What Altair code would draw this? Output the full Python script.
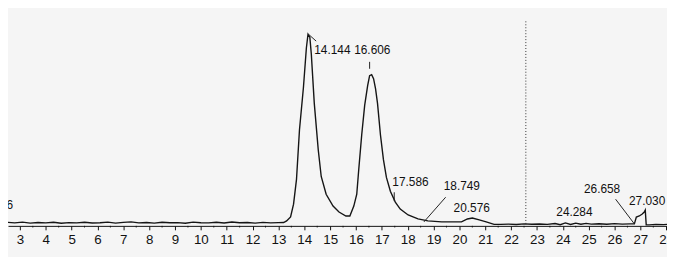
import altair as alt
import pandas as pd

# ---- trace (retention time in min, detector signal) ----
time = [2.54, 2.8, 3.1, 3.4, 3.7, 4.0, 4.3, 4.6, 4.9, 5.2, 5.5, 5.8, 6.1, 6.4, 6.7, 7.0,
        7.3, 7.6, 7.9, 8.2, 8.5, 8.8, 9.1, 9.4, 9.7, 10.0, 10.3, 10.6, 10.9, 11.2, 11.5,
        11.8, 12.1, 12.4, 12.7, 13.0, 13.2,
        13.317, 13.47, 13.585, 13.699, 13.814, 13.967, 14.081, 14.144, 14.215, 14.272,
        14.387, 14.54, 14.655, 14.846, 15.113, 15.343, 15.61, 15.763, 15.916, 16.03,
        16.107, 16.221, 16.336, 16.451, 16.527, 16.606, 16.68, 16.756, 16.833, 16.947,
        17.062, 17.177, 17.33, 17.521, 17.712, 18.017, 18.399, 18.782, 19.317, 19.813,
        20.081, 20.31, 20.501, 20.768, 21.036, 21.342,
        21.6, 21.9, 22.2, 22.5, 22.8, 23.1, 23.4, 23.7, 23.9, 24.1, 24.3, 24.5, 24.7,
        24.9, 25.1, 25.4, 25.7, 26.0, 26.3, 26.6,
        26.691, 26.768, 26.844, 26.959, 27.073, 27.15, 27.189, 27.226, 27.341, 27.6,
        27.9, 28.03]
signal = [3.5, 3.0, 3.8, 2.8, 3.4, 3.0, 3.6, 2.7, 3.3, 3.0, 3.7, 2.9, 3.2, 3.8, 2.8, 3.5,
          4.0, 3.0, 3.4, 2.8, 3.6, 3.1, 3.3, 2.7, 3.8, 3.2, 3.0, 3.6, 2.9, 3.9, 3.1,
          3.4, 2.8, 3.5, 3.0, 3.3, 3.4,
          5, 9, 22, 47, 97, 140, 180, 194, 191, 174,
          124, 77, 50, 32, 20, 14, 10, 10, 20, 32,
          57, 92, 122, 142, 152, 153, 149, 139, 124, 92,
          67, 49, 35, 24, 17, 11, 7, 5, 4, 4,
          4, 7, 8, 6, 4, 1.5,
          1.5, 1.8, 1.4, 2.0, 1.6, 1.9, 1.5, 2.4, 1.2, 3.0, 1.4, 2.8, 1.6,
          2.5, 1.8, 2.2, 1.6, 2.3, 1.8, 2.0,
          2, 2, 9, 10, 12, 14, 16, 1, 1, 1.5,
          1.2, 1.5]

# ---- peak annotations ----
label_text = ["14.144", "16.606", "17.586", "18.749", "20.576", "24.284", "26.658", "27.030"]
label_t = [14.387, 15.93, 17.406, 19.393, 19.775, 23.749, 24.819, 26.56]
label_s = [178, 178, 44, 40, 18, 14, 37, 25]

edge_text = ["56"]
edge_t = [2.733]
edge_s = [21]

lead_t1 = [14.16, 16.527, 17.48, 19.469, 26.042]
lead_s1 = [194, 166, 34, 29, 27]
lead_t2 = [14.46, 16.527, 17.48, 18.628, 26.768]
lead_s2 = [187, 159, 25, 4, 2]

cursor_t = [22.57]
cursor_top = [207]

major_ticks = list(range(3, 29))
minor_ticks = [v + 0.5 for v in range(2, 28)]

X_DOMAIN = [2.54, 28.03]
Y_DOMAIN = [0, 219]

FONT = "Liberation Sans"

xs = alt.Scale(domain=X_DOMAIN, nice=False, zero=False)
ys = alt.Scale(domain=Y_DOMAIN, nice=False, zero=False)

trace_df = pd.DataFrame({"t": time, "s": signal})
lab_df = pd.DataFrame({"t": label_t, "s": label_s, "txt": label_text})
edge_df = pd.DataFrame({"t": edge_t, "s": edge_s, "txt": edge_text})
lead_df = pd.DataFrame({"t": lead_t1, "s": lead_s1, "t2": lead_t2, "s2": lead_s2})
cur_df = pd.DataFrame({"t": cursor_t, "s": cursor_top, "s0": [0]})
minor_df = pd.DataFrame({"t": minor_ticks, "s": [0] * len(minor_ticks), "s2": [-1.6] * len(minor_ticks)})

X = alt.X("t:Q", scale=xs, title=None,
          axis=alt.Axis(values=major_ticks, format="d", labelOverlap=False, labelFlush=False,
                        grid=False, domainColor="#111", tickColor="#111", tickSize=4,
                        labelFont=FONT, labelFontSize=13.5, labelColor="#111", labelPadding=3))
Y = alt.Y("s:Q", scale=ys, axis=None)

trace = alt.Chart(trace_df).mark_line(color="#151515", strokeWidth=1.4).encode(x=X, y=Y)

cursor = alt.Chart(cur_df).mark_rule(color="#333", strokeWidth=1, strokeDash=[1, 2]).encode(
    x=X, y=Y, y2="s0:Q")

leads = alt.Chart(lead_df).mark_rule(color="#222", strokeWidth=1).encode(
    x=X, y=Y, x2="t2:Q", y2="s2:Q")

minor = alt.Chart(minor_df).mark_rule(color="#111", strokeWidth=1).encode(
    x=X, y=Y, y2="s2:Q")

labels = alt.Chart(lab_df).mark_text(
    align="left", baseline="middle", font=FONT, fontSize=12, color="#111"
).encode(x=X, y=Y, text="txt:N")

labels_edge = alt.Chart(edge_df).mark_text(
    align="right", baseline="middle", font=FONT, fontSize=12, color="#111"
).encode(x=X, y=Y, text="txt:N")

chart = alt.layer(trace, cursor, leads, minor, labels, labels_edge).properties(
    width=667, height=219,
    autosize=alt.AutoSizeParams(type="none"),
    padding={"left": 0, "top": 0, "right": 0, "bottom": 30},
    background="#f5f5f5",
).configure_view(strokeWidth=0)

chart.save("out.html", embed_options={"renderer": "svg", "actions": False})
